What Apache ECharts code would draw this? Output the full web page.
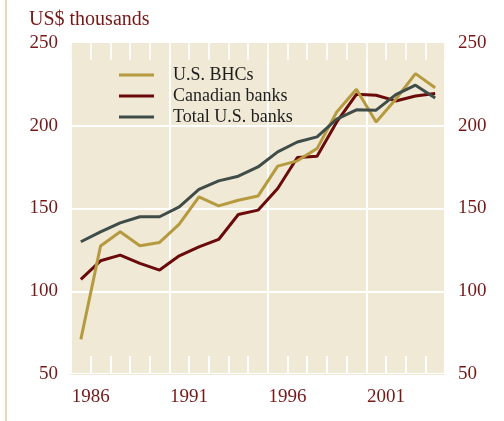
<!DOCTYPE html>
<html>
<head>
<meta charset="utf-8">
<script src="https://cdn.jsdelivr.net/npm/echarts@6/dist/echarts.min.js"></script>
<style>
html,body{margin:0;padding:0;background:#fff;}
#chart{width:504px;height:421px;}
</style>
</head>
<body>
<div id="chart"></div>
<script>
// Data (plotted at mid-year)
const years = [1985,1986,1987,1988,1989,1990,1991,1992,1993,1994,1995,1996,1997,1998,1999,2000,2001,2002,2003];
const usBHCs = [70.9,127.3,135.9,127.5,129.5,140.6,157,151.6,155,157.5,175.6,178.8,186.2,208.3,222,202.3,216,231.5,223];
const canadianBanks = [107.2,118.4,121.8,116.8,112.8,121.4,126.8,131.3,146.4,149,162.1,180.8,181.6,202.3,219,218.4,215,218,219.5];
const totalUSBanks = [129.9,135.9,141.3,145,145,151,161.5,166.7,169.5,175.1,184.2,190.2,193.3,204,209.6,209.4,218.8,224.5,216.8];
const labelYears = [1986,1991,1996,2001];
const yTicks = [50,100,150,200,250];

const serif = '"Liberation Serif","DejaVu Serif",serif';
const labelColor = '#761818';
const pts = arr => arr.map((v,i)=>[years[i]+0.5, v]);

const chart = echarts.init(document.getElementById('chart'));
chart.setOption({
  animation:false,
  title:{text:'US$ thousands', left:24, top:5,
    textStyle:{fontFamily:serif, fontSize:20, fontWeight:'normal', color:labelColor}},
  graphic:[{type:'rect', shape:{x:5, y:0, width:2, height:421}, style:{fill:'#e6dab0'}}],
  grid:{left:71, right:59, top:43, bottom:47, show:true, backgroundColor:'#efe9d6', borderWidth:0},
  legend:{orient:'vertical', left:114, top:61, icon:'rect', itemWidth:35, itemHeight:3, itemGap:3,
    textStyle:{fontFamily:serif, fontSize:18, color:'#1d1d1d', padding:[0,0,0,14], lineHeight:18},
    data:['U.S. BHCs','Canadian banks','Total U.S. banks']},
  xAxis:[
    {type:'value', min:1985, max:2004, interval:5, axisLabel:{show:false}, axisLine:{show:false}, axisTick:{show:false},
      splitLine:{show:true, lineStyle:{color:'#ffffff', width:2}}},
    {type:'value', min:1985, max:2004, interval:1, position:'bottom',
      axisLine:{show:true, lineStyle:{color:'#efe9d6', width:1}},
      axisTick:{show:true, inside:true, length:18, lineStyle:{color:'#fefefe', width:2}},
      splitLine:{show:false},
      axisLabel:{margin:14, fontFamily:serif, fontSize:19, color:labelColor,
        formatter:v=> labelYears.indexOf(v)>=0 ? String(v) : ''}},
    {type:'value', min:1985, max:2004, interval:1, position:'top',
      axisLine:{show:true, lineStyle:{color:'#eee8d5', width:1}},
      axisTick:{show:true, inside:true, length:17, lineStyle:{color:'#fbfbf9', width:2}},
      splitLine:{show:false}, axisLabel:{show:false}}
  ],
  yAxis:[
    {type:'value', min:yTicks[0], max:yTicks[yTicks.length-1], interval:50, position:'left',
      axisLine:{show:false}, axisTick:{show:false},
      splitLine:{show:true, lineStyle:{color:'#ffffff', width:2}},
      axisLabel:{margin:13, fontFamily:serif, fontSize:19, color:labelColor}},
    {type:'value', min:yTicks[0], max:yTicks[yTicks.length-1], interval:50, position:'right',
      axisLine:{show:false}, axisTick:{show:false}, splitLine:{show:false},
      axisLabel:{margin:13, fontFamily:serif, fontSize:19, color:labelColor}}
  ],
  series:[
    {name:'U.S. BHCs', type:'line', xAxisIndex:1, data:pts(usBHCs), symbol:'none', lineStyle:{color:'#b59a3f', width:3}, itemStyle:{color:'#b59a3f'}, z:3},
    {name:'Canadian banks', type:'line', xAxisIndex:1, data:pts(canadianBanks), symbol:'none', lineStyle:{color:'#6b0a0a', width:3}, itemStyle:{color:'#6b0a0a'}, z:2},
    {name:'Total U.S. banks', type:'line', xAxisIndex:1, data:pts(totalUSBanks), symbol:'none', lineStyle:{color:'#404c48', width:3}, itemStyle:{color:'#404c48'}, z:4}
  ]
});
</script>
</body>
</html>
